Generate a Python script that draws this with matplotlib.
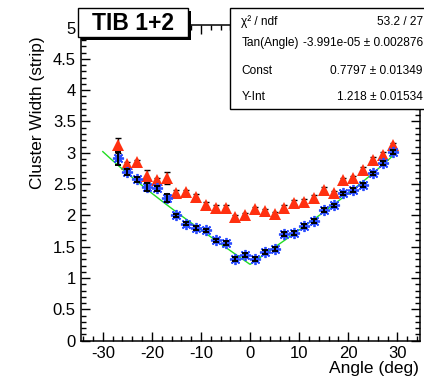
import numpy as np
import matplotlib
matplotlib.use("Agg")
import matplotlib.pyplot as plt
from matplotlib.patches import Rectangle
from matplotlib.ticker import MultipleLocator

plt.rcParams['font.family'] = ['Liberation Sans', 'DejaVu Sans']
plt.rcParams['axes.unicode_minus'] = False

# ---- data ----
angles = [-27, -25, -23, -21, -19, -17, -15, -13, -11, -9, -7, -5, -3, -1,
          1, 3, 5, 7, 9, 11, 13, 15, 17, 19, 21, 23, 25, 27, 29]
width_fit_sample = [2.91, 2.69, 2.58, 2.45, 2.43, 2.28, 2.00, 1.87, 1.80, 1.76,
                    1.60, 1.56, 1.31, 1.365, 1.30, 1.42, 1.47, 1.70, 1.72, 1.835,
                    1.91, 2.09, 2.16, 2.35, 2.41, 2.48, 2.67, 2.84, 3.01]
width_fit_err = [0.10, 0.045, 0.04, 0.065, 0.04, 0.065, 0.03, 0.03, 0.03, 0.03,
                 0.03, 0.03, 0.03, 0.03, 0.03, 0.03, 0.03, 0.03, 0.03, 0.03,
                 0.03, 0.03, 0.03, 0.03, 0.03, 0.03, 0.03, 0.03, 0.03]
width_other = [3.12, 2.82, 2.85, 2.63, 2.56, 2.60, 2.36, 2.37, 2.30, 2.17,
               2.12, 2.12, 1.97, 2.00, 2.10, 2.07, 2.02, 2.12, 2.20, 2.22,
               2.28, 2.41, 2.35, 2.56, 2.59, 2.73, 2.89, 2.97, 3.12]
width_other_err = [0.12, 0.04, 0.04, 0.10, 0.04, 0.10, 0.04, 0.04, 0.04, 0.04,
                   0.04, 0.04, 0.04, 0.04, 0.04, 0.04, 0.04, 0.04, 0.04, 0.04,
                   0.04, 0.04, 0.04, 0.04, 0.04, 0.04, 0.04, 0.04, 0.04]

# fit parameters (from stats box)
chi2_ndf = "53.2 / 27"
tan_angle = -3.991e-05
tan_angle_err = 0.002876
const = 0.7797
const_err = 0.01349
y_int = 1.218
y_int_err = 0.01534
thickness_over_pitch = 4.0
fit_range = (-30, 30)

W, H = 424, 377
fig = plt.figure(figsize=(W / 100, H / 100), dpi=100)
ax = fig.add_axes([80.7 / W, 1 - 340.7 / H, (420 - 80.7) / W, (340.7 - 25) / H])

# red triangles
ax.errorbar(angles, width_other, yerr=width_other_err, fmt='none', ecolor='black',
            elinewidth=1.0, capsize=2.5, capthick=1.0, zorder=2)
ax.plot(angles, width_other, linestyle='none', marker='^', ms=8,
        color='#ff3010', markeredgewidth=0, zorder=3)

# fit line
xf = np.linspace(fit_range[0], fit_range[1], 400)
yf = y_int + thickness_over_pitch * const * np.abs(np.tan(np.radians(xf)) - tan_angle)
ax.plot(xf, yf, color='#22dd22', lw=1.0, zorder=4)

# blue stars with black error bars
ax.plot(angles, width_fit_sample, linestyle='none', marker=(8, 2, 0), ms=8,
        markeredgecolor='#2a4cff', markeredgewidth=1.3, zorder=5)
ax.errorbar(angles, width_fit_sample, yerr=width_fit_err, fmt='none', ecolor='black',
            elinewidth=1.4, capsize=2.5, capthick=1.4, zorder=6)

ax.set_xlim(-34.5, 34.6)
ax.set_ylim(0, 5.04)
ax.xaxis.set_major_locator(MultipleLocator(10))
ax.xaxis.set_minor_locator(MultipleLocator(2))
ax.yaxis.set_major_locator(MultipleLocator(0.5))
ax.yaxis.set_minor_locator(MultipleLocator(0.1))
ax.yaxis.set_major_formatter(matplotlib.ticker.FuncFormatter(lambda v, p: f"{v:g}"))
ax.xaxis.set_major_formatter(matplotlib.ticker.FuncFormatter(lambda v, p: f"{v:g}"))
ax.tick_params(which='both', direction='in', top=True, right=True, width=1.0,
               labelsize=12)
ax.tick_params(which='major', length=6.5)
ax.tick_params(which='minor', length=3.6)
ax.tick_params(axis='y', pad=3.5)
ax.tick_params(axis='x', pad=4)
for s in ax.spines.values():
    s.set_linewidth(1.1)

fig.text(418.5 / W, 1 - 368 / H, "Angle (deg)", ha='right', va='center', fontsize=12.5)
fig.text(37.5 / W, 1 - 36 / H, "Cluster Width (strip)", rotation=90, ha='center',
         va='top', fontsize=12.4)


def px_rect(x0, y0, x1, y1, **kw):
    r = Rectangle((x0 / W, 1 - y1 / H), (x1 - x0) / W, (y1 - y0) / H,
                  transform=fig.transFigure, **kw)
    fig.add_artist(r)
    return r

# TIB box with shadow
px_rect(81, 11, 191, 40, facecolor='black', edgecolor='black', lw=0, zorder=10)
px_rect(78, 8, 188, 37, facecolor='white', edgecolor='black', lw=1.0, zorder=11)
fig.text(133 / W, 1 - 23 / H, "TIB 1+2", ha='center', va='center', fontsize=16.5,
         fontweight='bold', zorder=12)

# stats box
px_rect(230.3, 8.3, 430, 109.3, facecolor='white', edgecolor='black', lw=1.0, zorder=10)
rows = [("χ² / ndf", chi2_ndf, 21.7),
        ("Tan(Angle)", f"{tan_angle:.4g} ± {tan_angle_err:.4g}", 43.3),
        ("Const", f"{const:.4g} ± {const_err:.4g}", 70.7),
        ("Y-Int", f"{y_int:.4g} ± {y_int_err:.4g}", 96.7)]
for name, val, yy in rows:
    fig.text(241.3 / W, 1 - yy / H, name, ha='left', va='center', fontsize=8.6, zorder=12)
    fig.text(422.7 / W, 1 - yy / H, val, ha='right', va='center', fontsize=8.6, zorder=12)

fig.savefig("out.png", dpi=100)
